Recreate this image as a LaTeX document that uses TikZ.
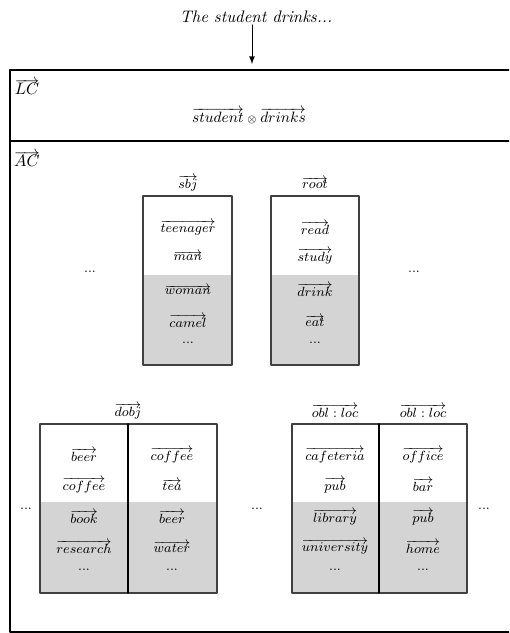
\documentclass[tikz,border=0pt]{standalone}
\tikzset{
  word/.style={font=\footnotesize,inner sep=0pt},
  rel/.style={font=\footnotesize,inner sep=0pt},
  slot/.style={draw=black!75,line width=0.7pt},
  colsep/.style={line width=1.1pt},
  shade/.style={fill=black!17}
}
\begin{document}
\begin{tikzpicture}[x=0.6pt,y=-0.6pt,line cap=round,line join=round,>=latex]
  \clip (0,0) rectangle (509,633);
  % input sentence
  \node[inner sep=1pt] (title) at (256,17) {\textit{The student drinks...}};
  \coordinate (lctop) at (252,64);
  \draw[->,line width=0.6pt] (title.south -| lctop) -- (lctop);
  % LC and AC frames
  \draw[line width=1.1pt] (10,70) rectangle (530,632);
  \draw[line width=1.1pt] (10,141) -- (530,141);
  \node (lc) at (27,87) {$\overrightarrow{LC}$};
  \node (comp) at (249,116) {\small$\overrightarrow{student}\mathbin{\scriptstyle\otimes}\overrightarrow{drinks}$};
  \node (ac) at (27,159) {$\overrightarrow{AC}$};
  % upper slots
  \fill[shade] (143,275) rectangle (232,365);
  \fill[shade] (271,275) rectangle (359,365);
  \draw[slot] (143,196) rectangle (232,365);
  \draw[slot] (271,196) rectangle (359,365);
  \node[rel] (sbj) at (188,183) {$\overrightarrow{sbj}$};
  \node[rel] (root) at (315,183) {$\overrightarrow{root}$};
  \node[word] (teenager) at (188,228) {$\overrightarrow{teenager}$};
  \node[word] (man) at (188,256) {$\overrightarrow{man}$};
  \node[word] (woman) at (188,290) {$\overrightarrow{woman}$};
  \node[word] (camel) at (188,321) {$\overrightarrow{camel}$};
  \node[word] (sbjdots) at (188,343) {...};
  \node[word] (read) at (315,228) {$\overrightarrow{read}$};
  \node[word] (study) at (315,256) {$\overrightarrow{study}$};
  \node[word] (drink) at (315,290) {$\overrightarrow{drink}$};
  \node[word] (eat) at (315,321) {$\overrightarrow{eat}$};
  \node[word] (rootdots) at (315,343) {...};
  \node[word] (upleft) at (90,272) {...};
  \node[word] (upright) at (414,272) {...};
  % lower slots
  \fill[shade] (40,502) rectangle (217,593);
  \fill[shade] (292,502) rectangle (467,593);
  \draw[slot] (40,424) rectangle (217,593);
  \draw[slot] (292,424) rectangle (467,593);
  \draw[colsep] (128,424) -- (128,593);
  \draw[colsep] (379,424) -- (379,593);
  \node[rel] (dobj) at (128,411) {$\overrightarrow{dobj}$};
  \node[rel] (obla) at (335,411) {$\overrightarrow{obl:loc}$};
  \node[rel] (oblb) at (423,411) {$\overrightarrow{obl:loc}$};
  \node[word] (beer) at (84,455) {$\overrightarrow{beer}$};
  \node[word] (coffee) at (84,485) {$\overrightarrow{coffee}$};
  \node[word] (book) at (84,517) {$\overrightarrow{book}$};
  \node[word] (research) at (84,547) {$\overrightarrow{research}$};
  \node[word] (dobjdotsa) at (84,570) {...};
  \node[word] (coffeeb) at (172,455) {$\overrightarrow{coffee}$};
  \node[word] (tea) at (172,485) {$\overrightarrow{tea}$};
  \node[word] (beerb) at (172,517) {$\overrightarrow{beer}$};
  \node[word] (water) at (172,547) {$\overrightarrow{water}$};
  \node[word] (dobjdotsb) at (172,570) {...};
  \node[word] (cafeteria) at (335,455) {$\overrightarrow{cafeteria}$};
  \node[word] (pub) at (335,485) {$\overrightarrow{pub}$};
  \node[word] (library) at (335,517) {$\overrightarrow{library}$};
  \node[word] (university) at (335,547) {$\overrightarrow{university}$};
  \node[word] (obldotsa) at (335,570) {...};
  \node[word] (office) at (423,455) {$\overrightarrow{office}$};
  \node[word] (bar) at (423,485) {$\overrightarrow{bar}$};
  \node[word] (pubb) at (423,517) {$\overrightarrow{pub}$};
  \node[word] (home) at (423,547) {$\overrightarrow{home}$};
  \node[word] (obldotsb) at (423,570) {...};
  \node[word] (lowleft) at (26,509) {...};
  \node[word] (lowmid) at (257,509) {...};
  \node[word] (lowright) at (484,509) {...};
\end{tikzpicture}
\end{document}
